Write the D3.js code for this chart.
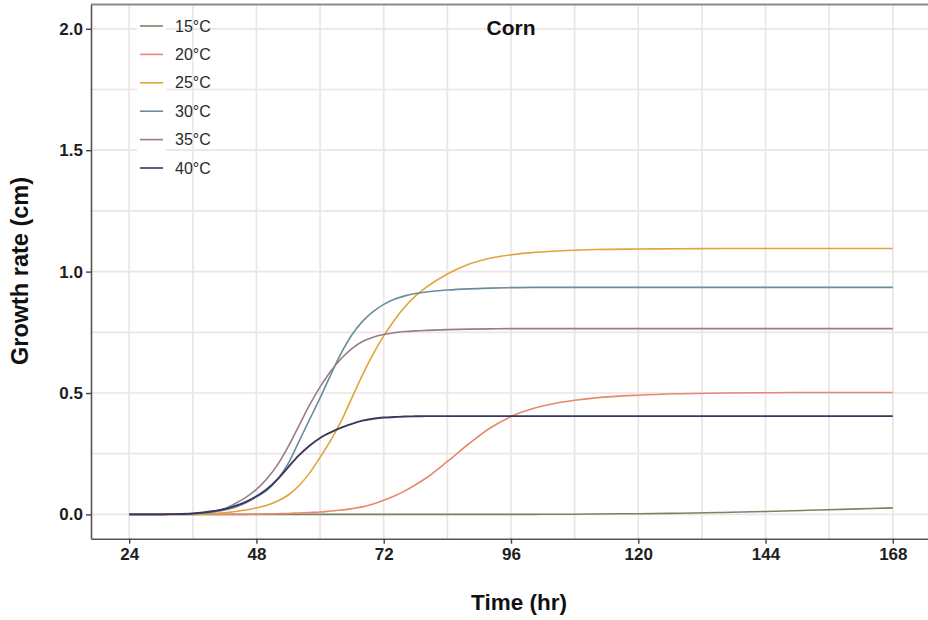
<!DOCTYPE html>
<html>
<head>
<meta charset="utf-8">
<script src="https://cdn.jsdelivr.net/npm/d3@7"></script>
<style>
  html, body { margin: 0; padding: 0; background: #fff; }
  svg { display: block; font-family: "Liberation Sans", Arial, Helvetica, sans-serif; }
</style>
</head>
<body>
<svg id="chart" width="928" height="620"></svg>
<script>
// Sampling times (hr)
const times = [24, 28, 32, 36, 40, 42, 44, 46, 48, 50, 52, 54, 56, 58, 60, 62, 64, 66, 68, 70,
               72, 74, 76, 78, 80, 84, 88, 92, 96, 100, 104, 108, 112, 120, 128, 136, 144, 152, 160, 168];

// Growth (cm) per temperature, one value per sampling time
const growth15 = [0, 0, 0, 0, 0, 0, 0, 0, 0, 0, 0, 0, 0, 0, 0, 0, 0, 0, 0, 0,
                  0, 0, 0, 0, 0, 0, 0, 0, 0, 0, 0.001, 0.001, 0.002, 0.003, 0.005, 0.008, 0.012, 0.017, 0.022, 0.027];
const growth20 = [0, 0, 0, 0, 0, 0, 0, 0, 0.001, 0.002, 0.003, 0.004, 0.006, 0.008, 0.010, 0.014, 0.018, 0.024, 0.031, 0.043,
                  0.058, 0.076, 0.097, 0.122, 0.150, 0.218, 0.290, 0.355, 0.403, 0.435, 0.456, 0.470, 0.480, 0.491, 0.497, 0.500, 0.501, 0.502, 0.502, 0.502];
const growth25 = [0, 0, 0, 0.001, 0.004, 0.007, 0.012, 0.018, 0.027, 0.038, 0.055, 0.080, 0.118, 0.170, 0.235, 0.305, 0.385, 0.480, 0.575, 0.660,
                  0.735, 0.800, 0.855, 0.900, 0.935, 0.990, 1.030, 1.055, 1.069, 1.078, 1.084, 1.088, 1.091, 1.093, 1.094, 1.095, 1.095, 1.095, 1.095, 1.095];
const growth30 = [0, 0, 0.001, 0.003, 0.010, 0.018, 0.030, 0.048, 0.072, 0.100, 0.145, 0.210, 0.300, 0.390, 0.480, 0.575, 0.665, 0.740, 0.795, 0.835,
                  0.865, 0.886, 0.900, 0.910, 0.916, 0.924, 0.929, 0.932, 0.934, 0.935, 0.935, 0.935, 0.935, 0.935, 0.935, 0.935, 0.935, 0.935, 0.935, 0.935];
const growth35 = [0, 0, 0.001, 0.004, 0.013, 0.024, 0.045, 0.070, 0.103, 0.148, 0.205, 0.280, 0.365, 0.450, 0.525, 0.590, 0.642, 0.683, 0.712, 0.730,
                  0.741, 0.748, 0.753, 0.756, 0.758, 0.761, 0.763, 0.764, 0.765, 0.765, 0.765, 0.765, 0.765, 0.765, 0.765, 0.765, 0.765, 0.765, 0.765, 0.765];
const growth40 = [0, 0, 0.001, 0.004, 0.014, 0.022, 0.035, 0.052, 0.075, 0.105, 0.145, 0.195, 0.243, 0.283, 0.315, 0.338, 0.357, 0.373, 0.386, 0.394,
                  0.399, 0.401, 0.403, 0.404, 0.405, 0.405, 0.405, 0.405, 0.405, 0.405, 0.405, 0.405, 0.405, 0.405, 0.405, 0.405, 0.405, 0.405, 0.405, 0.405];

const seriesLabels = ["15°C", "20°C", "25°C", "30°C", "35°C", "40°C"];
const seriesValues = [growth15, growth20, growth25, growth30, growth35, growth40];
const seriesColors = ["#7a8363", "#e8886f", "#e2a33c", "#6b8c9c", "#9a7c85", "#39375f"];

const xTicks = [24, 48, 72, 96, 120, 144, 168];
const xMinor = [36, 60, 84, 108, 132, 156];
const yTicks = [0, 0.5, 1.0, 1.5, 2.0];
const yMinor = [0.25, 0.75, 1.25, 1.75];

const chartTitle = "Corn";
const xTitle = "Time (hr)";
const yTitle = "Growth rate (cm)";

// Panel geometry
const panel = { left: 91, right: 931, top: 4.5, bottom: 538.7 };

const svg = d3.select("#chart");

const x = d3.scaleLinear().domain([16.8, 175.2]).range([panel.left, panel.right]);
const y = d3.scaleLinear().domain([-0.1, 2.1]).range([panel.bottom, panel.top]);

// Grid
const grid = svg.append("g").attr("stroke", "#ebe5e5").attr("stroke-width", 1.7);
grid.selectAll(".vx").data(xTicks.concat(xMinor)).join("line")
  .attr("x1", d => x(d)).attr("x2", d => x(d))
  .attr("y1", panel.top).attr("y2", panel.bottom);
grid.selectAll(".hy").data(yTicks.concat(yMinor)).join("line")
  .attr("x1", panel.left).attr("x2", panel.right)
  .attr("y1", d => y(d)).attr("y2", d => y(d));

// Top border of the panel
svg.append("line")
  .attr("x1", panel.left).attr("x2", panel.right)
  .attr("y1", panel.top).attr("y2", panel.top)
  .attr("stroke", "#8c8c8c").attr("stroke-width", 2);

// Legend: white key backgrounds behind the key lines
const legendX = 140, legendY = 26, legendStep = 28.4;
svg.append("rect")
  .attr("x", 137).attr("y", legendY - 14)
  .attr("width", 29).attr("height", legendStep * seriesLabels.length)
  .attr("fill", "#fff");

// Curves
svg.append("clipPath").attr("id", "panelClip").append("rect")
  .attr("x", panel.left).attr("y", panel.top)
  .attr("width", panel.right - panel.left).attr("height", panel.bottom - panel.top);

const line = d3.line()
  .x((d, i) => x(times[i]))
  .y(d => y(d))
  .curve(d3.curveMonotoneX);

svg.append("g").attr("clip-path", "url(#panelClip)")
  .selectAll("path").data(seriesValues).join("path")
  .attr("d", d => line(d))
  .attr("fill", "none")
  .attr("stroke", (d, i) => seriesColors[i])
  .attr("stroke-width", (d, i) => i === 5 ? 1.9 : 1.6)
  .attr("stroke-linejoin", "round");

const legend = svg.append("g");
seriesLabels.forEach((lab, i) => {
  const ly = legendY + i * legendStep;
  legend.append("line")
    .attr("x1", legendX).attr("x2", legendX + 23)
    .attr("y1", ly).attr("y2", ly)
    .attr("stroke", seriesColors[i]).attr("stroke-width", 1.6);
  legend.append("text")
    .attr("x", 175).attr("y", ly + 5.5)
    .attr("font-size", 16).attr("fill", "#2a2a2a")
    .text(lab);
});

// Axes
const xAxis = d3.axisBottom(x).tickValues(xTicks).tickSize(5).tickSizeOuter(0).tickPadding(4);
const yAxis = d3.axisLeft(y).tickValues(yTicks).tickFormat(d3.format(".1f")).tickSize(5).tickSizeOuter(0).tickPadding(3);

const gx = svg.append("g").attr("transform", `translate(0,${panel.bottom})`).call(xAxis);
const gy = svg.append("g").attr("transform", `translate(${panel.left},0)`).call(yAxis);

[gx, gy].forEach(g => {
  g.select(".domain").attr("stroke", "#555").attr("stroke-width", 1.6);
  g.selectAll(".tick line").attr("stroke", "#444").attr("stroke-width", 1.4);
  g.selectAll(".tick text")
    .attr("font-family", "'Liberation Sans', Arial, sans-serif")
    .attr("font-size", 17).attr("font-weight", "bold").attr("fill", "#1e1e1e");
});

// Titles
svg.append("text")
  .attr("x", 511).attr("y", 35)
  .attr("text-anchor", "middle")
  .attr("font-size", 21).attr("font-weight", "bold").attr("fill", "#111")
  .text(chartTitle);

svg.append("text")
  .attr("x", 519).attr("y", 610)
  .attr("text-anchor", "middle")
  .attr("font-size", 22.5).attr("font-weight", "bold").attr("fill", "#111")
  .text(xTitle);

svg.append("text")
  .attr("transform", "translate(28,271) rotate(-90)")
  .attr("text-anchor", "middle")
  .attr("font-size", 23.5).attr("font-weight", "bold").attr("fill", "#111")
  .text(yTitle);
</script>
</body>
</html>
